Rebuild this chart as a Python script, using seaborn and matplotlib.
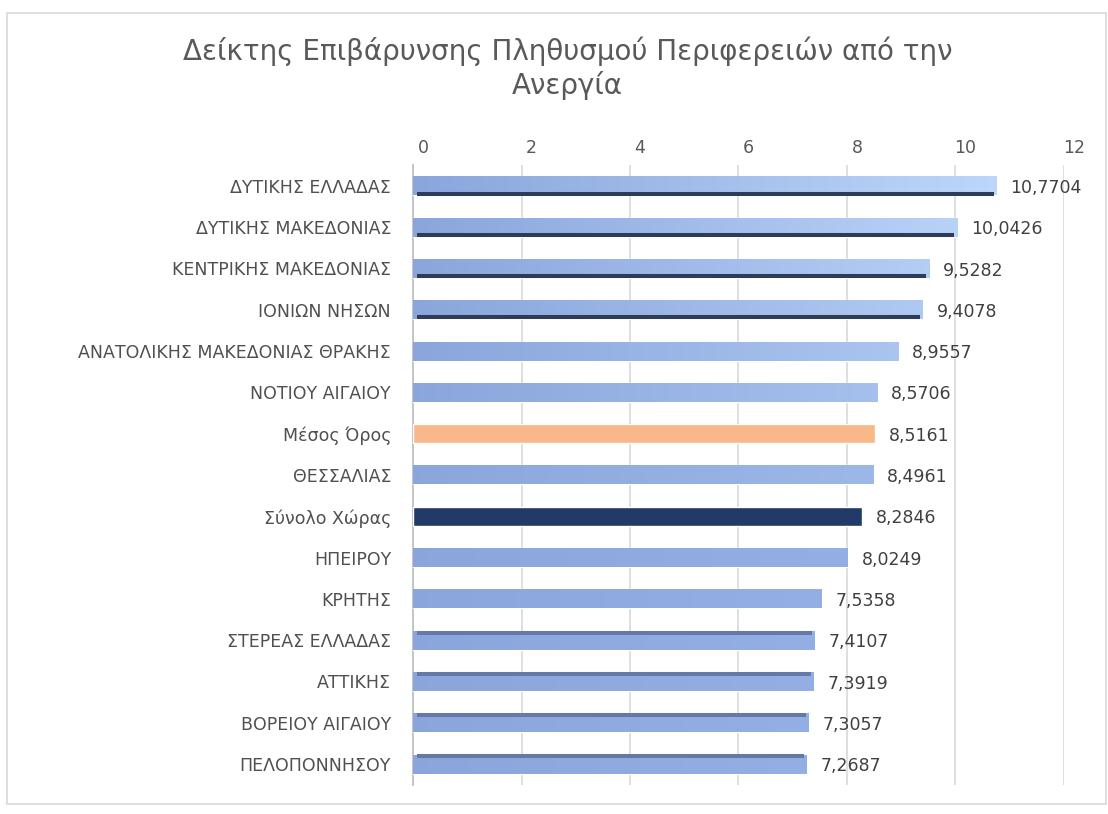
import matplotlib
matplotlib.use("Agg")
import matplotlib.pyplot as plt
import matplotlib.transforms as mtransforms
import seaborn as sns
import pandas as pd
import numpy as np
from matplotlib.patches import Rectangle
from matplotlib.colors import LinearSegmentedColormap

regions = ["ΔΥΤΙΚΗΣ ΕΛΛΑΔΑΣ", "ΔΥΤΙΚΗΣ ΜΑΚΕΔΟΝΙΑΣ", "ΚΕΝΤΡΙΚΗΣ ΜΑΚΕΔΟΝΙΑΣ", "ΙΟΝΙΩΝ ΝΗΣΩΝ",
           "ΑΝΑΤΟΛΙΚΗΣ ΜΑΚΕΔΟΝΙΑΣ ΘΡΑΚΗΣ", "ΝΟΤΙΟΥ ΑΙΓΑΙΟΥ", "Μέσος Όρος", "ΘΕΣΣΑΛΙΑΣ",
           "Σύνολο Χώρας", "ΗΠΕΙΡΟΥ", "ΚΡΗΤΗΣ", "ΣΤΕΡΕΑΣ ΕΛΛΑΔΑΣ", "ΑΤΤΙΚΗΣ",
           "ΒΟΡΕΙΟΥ ΑΙΓΑΙΟΥ", "ΠΕΛΟΠΟΝΝΗΣΟΥ"]
values = [10.7704, 10.0426, 9.5282, 9.4078, 8.9557, 8.5706, 8.5161, 8.4961,
          8.2846, 8.0249, 7.5358, 7.4107, 7.3919, 7.3057, 7.2687]
xticks = [0, 2, 4, 6, 8, 10, 12]

c_reg = "#93AFE3"
c_mean = "#F8B88A"
c_total = "#213A68"
colors = [c_mean if r == "Μέσος Όρος" else c_total if r == "Σύνολο Χώρας" else c_reg for r in regions]

sns.set_theme(style="white")
plt.rcParams['font.family'] = ['DejaVu Sans']

df = pd.DataFrame({"region": regions, "value": values})

fig = plt.figure(figsize=(11.08, 8.14), dpi=100)
fig.patches.append(Rectangle((0.006, 0.012), 0.992, 0.972, transform=fig.transFigure,
                             fill=False, edgecolor="#D9D9D9", linewidth=1.2))
ax = fig.add_axes([0.373, 0.036, 0.587, 0.761])

sns.barplot(data=df, x="value", y="region", hue="region", palette=colors,
            legend=False, width=0.46, ax=ax, zorder=3, saturation=1)

ax.set_xlim(0, 12)
ax.set_ylim(14.5, -0.5)

# gradient fill and 3D-like edges derived from the bar patches
n = len(regions)
for i, p in enumerate(ax.patches[:n]):
    x0, y0 = p.get_x(), p.get_y()
    w, h = p.get_width(), p.get_height()
    idx = int(round(y0 + h / 2))
    if regions[idx] in ("Μέσος Όρος", "Σύνολο Χώρας"):
        continue
    strength = max(0.0, 1 - idx / 9)
    right = np.array([0.576, 0.686, 0.890]) * (1 - strength) + np.array([0.74, 0.84, 0.98]) * strength
    cmap = LinearSegmentedColormap.from_list("g", [(0.54, 0.65, 0.86), tuple(right)])
    grad = np.linspace(0, 1, 256).reshape(1, -1)
    im = ax.imshow(grad, cmap=cmap, aspect="auto", extent=(x0, x0 + w, y0 + h, y0),
                   zorder=3.5, interpolation="bicubic")
    im.set_clip_path(p)
    if idx <= 3:
        ax.plot([x0 + 0.06, x0 + w - 0.06], [y0 + h - 0.045, y0 + h - 0.045], color="#2E3C58",
                linewidth=2.9, zorder=4, solid_capstyle="butt")
    elif idx >= 11:
        ax.plot([x0 + 0.06, x0 + w - 0.06], [y0 + 0.045, y0 + 0.045], color="#6479A8",
                linewidth=2.9, zorder=4, solid_capstyle="butt")
ax.set_xlim(0, 12)
ax.set_ylim(14.5, -0.5)

ax.set_xticks(xticks)
ax.xaxis.tick_top()
ax.tick_params(axis="x", labelsize=12.5, labelcolor="#595959", length=0, pad=6)
ax.tick_params(axis="y", labelsize=12.5, labelcolor="#505050", length=0, pad=16)
offset = mtransforms.ScaledTranslation(10 / 100, 0, fig.dpi_scale_trans)
for lab in ax.get_xticklabels():
    lab.set_transform(lab.get_transform() + offset)
ax.set_xlabel("")
ax.set_ylabel("")
ax.grid(axis="x", color="#D9D9D9", linewidth=1.2, zorder=0)
for s in ["top", "right", "bottom"]:
    ax.spines[s].set_visible(False)
ax.spines["left"].set_color("#BFBFBF")

for i, v in enumerate(values):
    ax.text(v + 0.25, i + 0.05, f"{v:.4f}".replace(".", ","), va="center", ha="left",
            fontsize=12.5, color="#404040")

fig.text(0.512, 0.937, "Δείκτης Επιβάρυνσης Πληθυσμού Περιφερειών από την", ha="center",
         va="center", fontsize=20, color="#595959")
fig.text(0.512, 0.895, "Ανεργία", ha="center", va="center", fontsize=20, color="#595959")

fig.savefig("out.png", dpi=100)
